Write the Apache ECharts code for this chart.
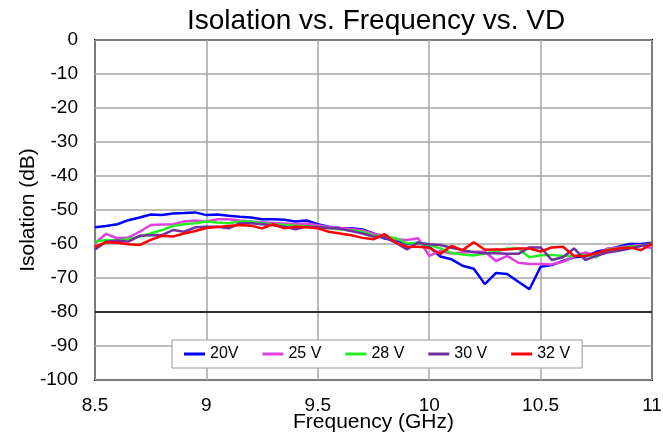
<!DOCTYPE html>
<html>
<head>
<meta charset="utf-8">
<script src="https://cdn.jsdelivr.net/npm/echarts@6/dist/echarts.min.js"></script>
<style>
  html, body { margin: 0; padding: 0; background: #fff; }
  #chart { width: 663px; height: 437px; }
</style>
</head>
<body>
<div id="chart"></div>
<script>
// frequency points (GHz)
const freq = [8.5, 8.55, 8.6, 8.65, 8.7, 8.75, 8.8, 8.85, 8.9, 8.95,
  9.0, 9.05, 9.1, 9.15, 9.2, 9.25, 9.3, 9.35, 9.4, 9.45,
  9.5, 9.55, 9.6, 9.65, 9.7, 9.75, 9.8, 9.85, 9.9, 9.95,
  10.0, 10.05, 10.1, 10.15, 10.2, 10.25, 10.3, 10.35, 10.4, 10.45,
  10.5, 10.55, 10.6, 10.65, 10.7, 10.75, 10.8, 10.85, 10.9, 10.95,
  11.0]

// isolation (dB) per drain voltage
const iso20 = [-55.1, -54.7, -54.2, -53.0, -52.2, -51.3, -51.5, -51.0, -50.9, -50.7,
  -51.5, -51.3, -51.7, -52.0, -52.2, -52.7, -52.7, -52.9, -53.4, -53.1,
  -54.2, -54.9, -55.3, -55.4, -55.7, -56.9, -58.4, -58.8, -60.0, -59.6,
  -60.8, -63.7, -64.5, -66.4, -67.3, -71.8, -68.5, -68.8, -71.1, -73.3,
  -66.7, -66.2, -65.0, -63.9, -63.7, -62.3, -61.6, -60.8, -60.0, -60.0,
  -59.6]
const iso25 = [-59.8, -57.0, -58.3, -58.1, -56.4, -54.4, -54.3, -54.2, -53.4, -53.1,
  -53.4, -52.7, -52.7, -53.1, -53.4, -53.6, -53.8, -54.0, -54.2, -54.0,
  -54.5, -55.0, -55.3, -55.6, -56.0, -57.0, -57.5, -58.6, -58.8, -58.3,
  -63.5, -62.0, -62.8, -62.5, -62.3, -62.3, -65.0, -63.5, -65.5, -65.9,
  -65.9, -66.0, -65.2, -63.7, -62.5, -63.2, -61.3, -61.0, -60.6, -60.3,
  -61.3]
const iso28 = [-59.3, -58.8, -59.0, -58.6, -57.8, -56.9, -55.9, -54.7, -54.2, -53.9,
  -53.4, -53.7, -53.9, -53.4, -53.4, -53.9, -54.2, -54.4, -54.6, -54.8,
  -55.0, -55.4, -55.7, -56.0, -56.4, -57.5, -57.8, -58.3, -59.8, -59.8,
  -60.3, -61.3, -62.6, -63.1, -63.4, -62.8, -62.3, -61.3, -61.3, -63.9,
  -63.3, -63.2, -63.5, -63.5, -63.2, -63.9, -61.6, -61.3, -60.8, -60.5,
  -59.8]
const iso30 = [-61.6, -59.3, -59.0, -59.3, -57.6, -57.4, -57.4, -55.9, -56.4, -55.1,
  -54.9, -54.9, -55.4, -53.9, -53.9, -54.2, -54.5, -54.9, -55.7, -54.9,
  -55.1, -55.3, -55.5, -56.2, -56.9, -57.8, -58.1, -59.6, -61.6, -59.6,
  -60.1, -60.3, -61.1, -61.8, -62.4, -62.7, -62.7, -62.9, -62.9, -61.0,
  -61.0, -64.7, -63.9, -61.3, -64.7, -63.5, -62.5, -62.0, -61.3, -60.6,
  -59.8]
const iso32 = [-60.8, -59.5, -59.6, -60.1, -60.3, -58.8, -57.6, -57.8, -56.9, -56.2,
  -55.3, -55.0, -54.7, -54.4, -54.6, -55.4, -54.2, -55.4, -54.9, -55.1,
  -55.4, -56.4, -56.9, -57.4, -58.2, -58.6, -57.1, -59.6, -60.8, -60.8,
  -61.1, -62.9, -60.6, -61.8, -59.5, -61.7, -61.6, -61.6, -61.3, -61.3,
  -62.2, -61.0, -60.8, -63.5, -63.5, -62.7, -61.8, -61.3, -61.0, -61.8,
  -60.0]

const seriesNames = ['20V', '25 V', '28 V', '30 V', '32 V']
const seriesData = [iso20, iso25, iso28, iso30, iso32]
const seriesColors = ['#0000ff', '#e040e0', '#22ee22', '#7030a0', '#ff0000']

const font = '"Liberation Sans", Arial, sans-serif'

const chart = echarts.init(document.getElementById('chart'), null, { renderer: 'canvas' })

const series = seriesData.map((vals, i) => ({
  name: seriesNames[i],
  type: 'line',
  data: freq.map((f, k) => [f, vals[k]]),
  showSymbol: false,
  symbol: 'none',
  color: seriesColors[i],
  lineStyle: { width: 2.5, color: seriesColors[i] },
  animation: false
}))

// dark reference line at -80 dB
series[0].markLine = {
  silent: true,
  symbol: 'none',
  label: { show: false },
  lineStyle: { color: '#000', width: 1.5, type: 'solid' },
  data: [{ yAxis: -80 }]
}

chart.setOption({
  animation: false,
  backgroundColor: '#fff',
  title: {
    text: 'Isolation vs. Frequency vs. VD',
    left: 182,
    top: 2,
    textStyle: { fontFamily: font, fontSize: 28, fontWeight: 'normal', color: '#000' }
  },
  legend: {
    left: 172,
    top: 340,
    icon: 'rect',
    itemWidth: 21,
    itemHeight: 3,
    itemGap: 24,
    padding: [6, 12],
    borderColor: '#999',
    borderWidth: 1,
    backgroundColor: '#fff',
    textStyle: { fontFamily: font, fontSize: 16, color: '#000' },
    data: seriesNames
  },
  grid: {
    left: 95,
    right: 11,
    top: 40,
    bottom: 57,
    show: true,
    borderColor: '#000',
    borderWidth: 2,
    containLabel: false,
    outerBoundsMode: 'none'
  },
  xAxis: {
    type: 'value',
    min: 8.5,
    max: 11,
    interval: 0.5,
    name: 'Frequency (GHz)',
    nameLocation: 'middle',
    nameGap: 32,
    nameMoveOverlap: false,
    nameTextStyle: { fontFamily: font, fontSize: 21, color: '#000' },
    axisLine: { show: false },
    axisTick: { show: false },
    axisLabel: { margin: 16, fontFamily: font, fontSize: 19, color: '#000' },
    splitLine: { lineStyle: { color: '#a6a6a6', width: 1.5 } }
  },
  yAxis: {
    type: 'value',
    min: -100,
    max: 0,
    interval: 10,
    name: 'Isolation (dB)',
    nameLocation: 'middle',
    nameGap: 56,
    nameMoveOverlap: false,
    nameTextStyle: { fontFamily: font, fontSize: 21, color: '#000' },
    axisLine: { show: false },
    axisTick: { show: false },
    axisLabel: { margin: 17, fontFamily: font, fontSize: 19, color: '#000' },
    splitLine: { lineStyle: { color: '#a6a6a6', width: 1.5 } }
  },
  series: series
})
</script>
</body>
</html>
